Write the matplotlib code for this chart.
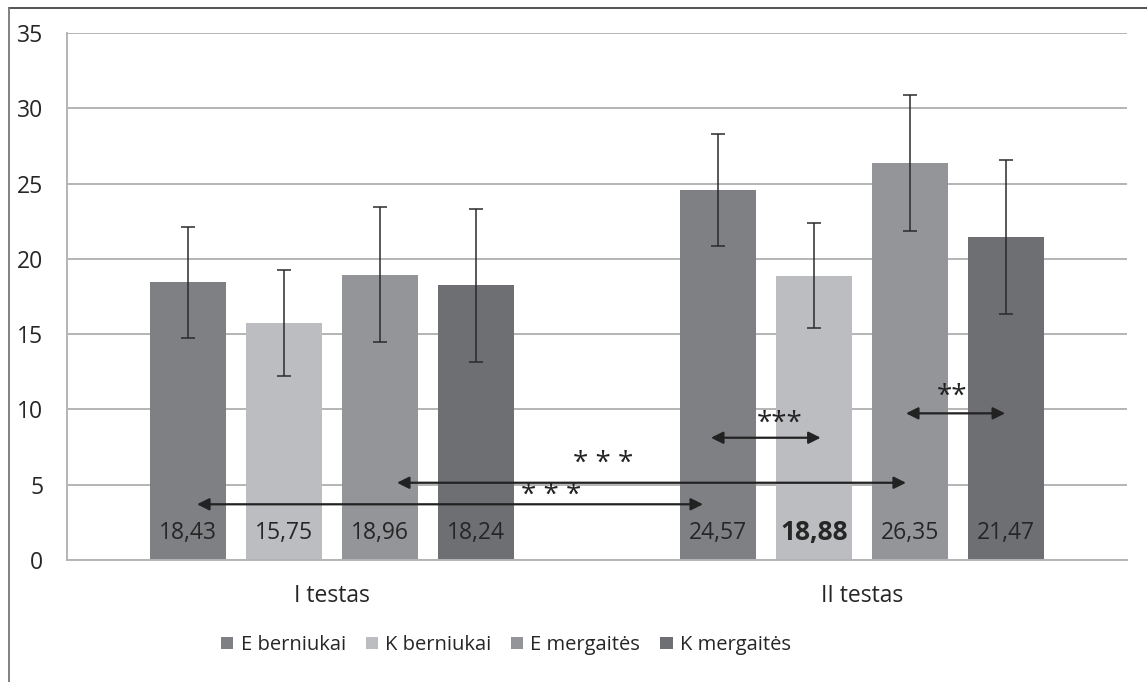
import matplotlib
matplotlib.use("Agg")
import matplotlib.pyplot as plt
from matplotlib.patches import Patch
from matplotlib.lines import Line2D
import numpy as np

plt.rcParams['font.family'] = ['Open Sans', 'DejaVu Sans']

groups = ["I testas", "II testas"]
series = ["E berniukai", "K berniukai", "E mergaitės", "K mergaitės"]
means = {
    "E berniukai": [18.43, 24.57],
    "K berniukai": [15.75, 18.88],
    "E mergaitės": [18.96, 26.35],
    "K mergaitės": [18.24, 21.47],
}
sds = {
    "E berniukai": [3.7, 3.7],
    "K berniukai": [3.5, 3.5],
    "E mergaitės": [4.5, 4.5],
    "K mergaitės": [5.1, 5.1],
}
labels = {
    "E berniukai": ["18,43", "24,57"],
    "K berniukai": ["15,75", "18,88"],
    "E mergaitės": ["18,96", "26,35"],
    "K mergaitės": ["18,24", "21,47"],
}
bold_labels = {("K berniukai", 1)}
colors = {
    "E berniukai": "#7f8083",
    "K berniukai": "#bcbdc0",
    "E mergaitės": "#939598",
    "K mergaitės": "#6e6f72",
}
yticks = [0, 5, 10, 15, 20, 25, 30, 35]

W, H = 1147, 682
fig = plt.figure(figsize=(W / 100, H / 100), dpi=100)
ax = fig.add_axes([67 / W, 1 - 560 / H, (1127 - 67) / W, (560 - 33) / H])

x = np.arange(len(groups))
offsets = [-0.2717, -0.0906, 0.0906, 0.2717]
bar_w = 0.143

for i, s in enumerate(series):
    xs = x + offsets[i]
    ax.bar(xs, means[s], width=bar_w, color=colors[s], zorder=2,
           edgecolor="none")
    ax.errorbar(xs, means[s], yerr=sds[s], fmt="none", ecolor="#2b2b2b",
                elinewidth=1.1, capsize=5, capthick=1.1, zorder=4)
    for j, xv in enumerate(xs):
        bold = (s, j) in bold_labels
        ax.text(xv, 1.8, labels[s][j], ha="center", va="center",
                fontsize=19 if bold else 16.5,
                fontweight="bold" if bold else "normal",
                color="#262626", zorder=5)

ax.set_xlim(-0.5, 1.5)
ax.set_ylim(0, 35)
ax.set_yticks(yticks)
ax.set_yticklabels([str(t) for t in yticks], fontsize=16.5, color="#262626")
ax.set_xticks(x)
ax.set_xticklabels(groups, fontsize=16.5, color="#262626")
ax.tick_params(axis="both", length=0)
ax.tick_params(axis="y", pad=17)
ax.tick_params(axis="x", pad=17)
ax.yaxis.grid(True, color="#b4b4b6", linewidth=1.4, zorder=0)
ax.set_axisbelow(True)
for side in ["top", "right"]:
    ax.spines[side].set_visible(False)
for side in ["left", "bottom"]:
    ax.spines[side].set_color("#b4b4b6")
    ax.spines[side].set_linewidth(1.4)

# significance arrows between groups
arrow_kw = dict(arrowstyle="<|-|>", color="#222222", lw=1.6,
                mutation_scale=18, shrinkA=0, shrinkB=0)
comparisons = [
    # (x_start, x_end, y, stars, star_x, star_y)
    (-0.2547, 0.700, 3.70, "* * *", 0.413, 4.25),
    (0.1226, 1.083, 5.13, "* * *", 0.511, 6.35),
    (0.715, 0.922, 8.12, "***", 0.845, 9.05),
    (1.083, 1.270, 9.74, "**", 1.170, 10.85),
]
for x0, x1, yv, stars, sx, sy in comparisons:
    ax.annotate("", xy=(x1, yv), xytext=(x0, yv),
                arrowprops=arrow_kw, zorder=6)
    ax.text(sx, sy, stars, ha="center", va="center", fontsize=20,
            color="#222222", zorder=6)

handles = [Patch(facecolor=colors[s], edgecolor="none") for s in series]
fig.legend(handles, series, loc="center", bbox_to_anchor=(506 / W, 1 - 645 / H),
           ncol=4, frameon=False, fontsize=14.5, handlelength=0.6,
           handleheight=0.6, handletextpad=0.35, columnspacing=1.0,
           labelcolor="#262626")

# outer frame (top and left edges)
fig.add_artist(Line2D([9 / W, 1.0], [1 - 8 / H, 1 - 8 / H],
                      transform=fig.transFigure, color="#444444", lw=1.3))
fig.add_artist(Line2D([9 / W, 9 / W], [0, 1 - 8 / H],
                      transform=fig.transFigure, color="#777777", lw=1.3))

fig.savefig("out.png", dpi=100)
